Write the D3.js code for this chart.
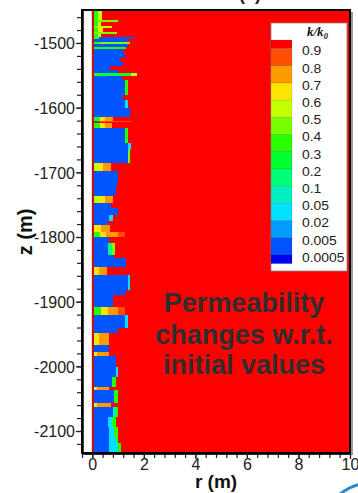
<!DOCTYPE html>
<html>
<head>
<meta charset="utf-8">
<script src="https://cdn.jsdelivr.net/npm/d3@7"></script>
<style>
  body { margin: 0; background: #fff; }
  svg { display: block; font-family: "Liberation Sans", Arial, sans-serif; }
</style>
</head>
<body>
<svg id="chart" width="358" height="493"></svg>
<script>
// contour levels of k/k0 and their fill colours (lowest band first)
var levels = [0.0005, 0.005, 0.02, 0.05, 0.1, 0.2, 0.3, 0.4, 0.5, 0.6, 0.7, 0.8, 0.9];
var levelColors = ["#0000f5", "#0055ff", "#009cff", "#00e0ff", "#00f0c0", "#00ff78", "#00ff30",
  "#28ff00", "#78ff00", "#c4ff00", "#ffe400", "#ff9a00", "#ff4e00", "#ff0000"];

var zTicks = [-2100, -2000, -1900, -1800, -1700, -1600, -1500];
var rTicks = [0, 2, 4, 6, 8, 10];
var noteLines = ["Permeability", "changes w.r.t.", "initial values"];

var zDomain = [-2134, -1449];
var rDomain = [-0.4, 10];
var rWell = 0.08;

// top of each depth band (m); band ends at the next top
var bandTop = [-1449, -1464, -1467, -1473, -1477, -1483, -1486.5, -1490.7, -1494.6, -1498.5,
  -1501.5, -1506.2, -1509.3, -1515.5, -1523.2, -1529.4, -1535.6, -1541.8, -1546.4, -1551,
  -1557.2, -1580.4, -1588.1, -1600.5, -1614.4, -1620.6, -1622.2, -1623.7, -1631.4, -1654.6,
  -1665.5, -1685.6, -1698.5, -1719.1, -1734.6, -1737.2, -1747.5, -1755.2, -1765.5, -1775.8,
  -1781, -1792, -1800.5, -1809.8, -1827.9, -1833, -1845.9, -1858.8, -1882, -1889.7,
  -1907.8, -1920.7, -1941.3, -1949, -1967, -1977.4, -1984.1, -2000.5, -2016, -2031.5,
  -2036.6, -2057.3, -2062.4, -2077.9, -2093.3, -2108.8, -2119.1];

// radial profile of each band: [outer r, k/k0] going out from the well; beyond is unchanged
var bandProfile = [
  [[0.21, 0.35], [0.38, 0.55]],
  [[0.21, 0.35], [1.0, 0.45]],
  [[0.21, 0.35], [0.34, 0.55]],
  [[0.21, 0.4], [0.75, 0.55]],
  [[0.21, 0.35], [0.4, 0.6]],
  [[0.21, 0.4], [0.95, 0.45]],
  [[0.21, 0.35], [0.34, 0.55]],
  [[0.25, 0.3], [1.6, 0.002]],
  [[1.35, 0.002]],
  [[0.3, 0.35], [1.45, 0.4]],
  [[1.39, 0.002]],
  [[0.5, 0.3], [1.3, 0.35]],
  [[1.2, 0.002]],
  [[1.27, 0.002]],
  [[1.08, 0.002]],
  [[1.2, 0.002]],
  [[0.7, 0.002]],
  [[1.0, 0.002]],
  [[0.3, 0.3], [1.5, 0.25], [1.74, 0.55]],
  [[1.16, 0.002]],
  [[1.27, 0.002], [1.39, 0.3]],
  [[1.2, 0.002]],
  [[1.27, 0.002], [1.39, 0.03]],
  [[1.47, 0.002]],
  [[0.3, 0.35], [0.49, 0.65], [0.8, 0.75]],
  [[0.25, 0.002], [1.55, 0.85]],
  [],
  [[0.3, 0.35], [0.49, 0.65], [0.75, 0.75]],
  [[1.27, 0.002], [1.39, 0.3]],
  [[1.39, 0.002], [1.51, 0.03]],
  [[1.39, 0.002], [1.47, 0.45]],
  [[0.27, 0.55], [0.4, 0.65], [0.73, 0.75]],
  [[0.99, 0.002]],
  [[0.9, 0.002]],
  [[0.79, 0.002]],
  [[0.3, 0.55], [0.5, 0.65], [0.8, 0.75]],
  [[0.73, 0.002]],
  [[0.99, 0.002]],
  [[0.66, 0.002], [0.79, 0.03]],
  [[0.6, 0.002]],
  [[0.35, 0.65], [0.7, 0.75]],
  [[0.3, 0.35], [0.55, 0.65], [1.0, 0.75], [1.25, 0.85]],
  [[0.66, 0.002]],
  [[0.6, 0.002], [0.75, 0.15], [0.88, 0.45]],
  [[0.86, 0.002]],
  [[1.31, 0.002]],
  [[0.27, 0.65], [0.56, 0.75]],
  [[1.38, 0.002], [1.47, 0.03]],
  [[1.31, 0.002]],
  [[0.79, 0.002]],
  [[0.34, 0.35], [0.6, 0.65], [0.99, 0.75], [1.25, 0.85]],
  [[1.25, 0.002], [1.38, 0.03]],
  [[0.99, 0.002]],
  [[0.27, 0.65], [0.66, 0.75]],
  [[0.66, 0.002]],
  [[0.2, 0.65], [0.66, 0.75]],
  [[0.92, 0.002]],
  [[0.92, 0.002], [0.99, 0.03]],
  [[0.77, 0.002], [0.9, 0.3]],
  [[0.2, 0.65], [0.66, 0.75]],
  [[0.86, 0.002], [0.99, 0.3]],
  [[0.2, 0.65], [0.73, 0.75]],
  [[0.79, 0.002], [0.9, 0.05], [0.99, 0.3]],
  [[0.6, 0.002], [0.77, 0.03], [0.92, 0.3]],
  [[0.66, 0.002], [0.86, 0.03], [0.99, 0.3]],
  [[0.66, 0.002], [0.92, 0.03], [0.99, 0.35]],
  [[0.66, 0.002], [0.99, 0.03], [1.12, 0.3]]
];

var svg = d3.select("#chart");

var x = d3.scaleLinear().domain(rDomain).range([82, 350]);
var y = d3.scaleLinear().domain(zDomain).range([453, 10]);
var color = d3.scaleThreshold().domain(levels).range(levelColors);

// frame shadow + background
svg.append("rect")
  .attr("x", x(rDomain[0]) + 3).attr("y", y(zDomain[1]) + 2)
  .attr("width", x(rDomain[1]) - x(rDomain[0])).attr("height", y(zDomain[0]) - y(zDomain[1]))
  .attr("fill", "#9a9a9a");
svg.append("rect")
  .attr("x", x(rDomain[0])).attr("y", y(zDomain[1]))
  .attr("width", x(0) - x(rDomain[0])).attr("height", y(zDomain[0]) - y(zDomain[1]))
  .attr("fill", "#fff");
svg.append("rect")
  .attr("x", x(0)).attr("y", y(zDomain[1]))
  .attr("width", x(rDomain[1]) - x(0)).attr("height", y(zDomain[0]) - y(zDomain[1]))
  .attr("fill", color(1));

// cells
var cells = [];
bandTop.forEach(function(top, i) {
  var bottom = i < bandTop.length - 1 ? bandTop[i + 1] : zDomain[0];
  var r0 = rWell;
  bandProfile[i].forEach(function(p) {
    cells.push({ z0: top, z1: bottom, r0: r0, r1: p[0], k: p[1] });
    r0 = p[0];
  });
});

svg.append("g").attr("shape-rendering", "crispEdges")
  .selectAll("rect").data(cells).enter().append("rect")
  .attr("x", function(d) { return x(d.r0); })
  .attr("y", function(d) { return y(d.z0); })
  .attr("width", function(d) { return x(d.r1) - x(d.r0); })
  .attr("height", function(d) { return y(d.z1) - y(d.z0); })
  .attr("fill", function(d) { return color(d.k); });

// well wall
svg.append("rect")
  .attr("x", x(0) - 0.5).attr("y", y(zDomain[1]))
  .attr("width", 1.8).attr("height", y(zDomain[0]) - y(zDomain[1]))
  .attr("fill", "#b01818");

// note
svg.append("g").selectAll("text").data(noteLines).enter().append("text")
  .attr("x", 244)
  .attr("y", function(d, i) { return [312, 344, 374][i]; })
  .attr("text-anchor", "middle")
  .attr("font-size", 27).attr("font-weight", "bold")
  .attr("fill", "#2e2e2e")
  .text(function(d) { return d; });

// legend
var legend = svg.append("g");
legend.append("rect")
  .attr("x", 271).attr("y", 23).attr("width", 76).attr("height", 248)
  .attr("fill", "#fff").attr("stroke", "#8a8a8a").attr("stroke-width", 0.8);

var title = legend.append("text")
  .attr("x", 307).attr("y", 36)
  .attr("font-family", "'Liberation Serif', 'Times New Roman', serif")
  .attr("font-style", "italic").attr("font-weight", "bold").attr("font-size", 13)
  .attr("fill", "#111");
title.append("tspan").text("k/k");
title.append("tspan").attr("font-size", 8.5).attr("dy", 2.5).text("0");

var step = 17.2;
var firstEdge = 48.6;
var swatches = d3.range(levelColors.length).map(function(i) {
  var top = i === 0 ? firstEdge - step / 2 : firstEdge + (i - 1) * step;
  var h = (i === 0 || i === levelColors.length - 1) ? step / 2 : step;
  return { top: top, h: h, fill: levelColors[levelColors.length - 1 - i] };
});
legend.selectAll(".sw").data(swatches).enter().append("rect")
  .attr("class", "sw")
  .attr("x", 271).attr("y", function(d) { return d.top; })
  .attr("width", 21).attr("height", function(d) { return d.h; })
  .attr("fill", function(d) { return d.fill; })
  .attr("stroke", "rgba(0,0,0,0.18)").attr("stroke-width", 0.6);

var labelLevels = levels.slice().reverse();
legend.selectAll(".lab").data(labelLevels).enter().append("text")
  .attr("class", "lab")
  .attr("transform", function(d, i) {
    return "translate(302," + (firstEdge + i * step + 6.8) + ") scale(1.16,1)";
  })
  .attr("font-size", 12).attr("fill", "#222")
  .text(function(d) { return String(d); });

// frame
svg.append("rect")
  .attr("x", x(rDomain[0])).attr("y", y(zDomain[1]))
  .attr("width", x(rDomain[1]) - x(rDomain[0])).attr("height", y(zDomain[0]) - y(zDomain[1]))
  .attr("fill", "none").attr("stroke", "#000").attr("stroke-width", 2);

// axes
var plain = function(d) { return String(d); };
var yMinor = d3.axisLeft(y).tickValues(d3.range(-2120, -1450, 20)).tickSize(5).tickSizeOuter(0).tickFormat("");
var yMajor = d3.axisLeft(y).tickValues(zTicks).tickSize(6).tickSizeOuter(0).tickPadding(1).tickFormat(plain);
var xMinor = d3.axisBottom(x).tickValues(d3.range(-0.4, 10.01, 0.4)).tickSize(5).tickSizeOuter(0).tickFormat("");
var xMajor = d3.axisBottom(x).tickValues(rTicks).tickSize(6).tickSizeOuter(0).tickFormat(plain);

function styleAxis(g) {
  g.select(".domain").attr("stroke", "#000").attr("stroke-width", 2);
  g.selectAll(".tick line").attr("stroke", "#222").attr("stroke-width", 1.2);
  g.selectAll("text").attr("font-size", 16).attr("fill", "#222")
    .attr("font-family", "'Liberation Sans', Arial, sans-serif");
}

svg.append("g").attr("transform", "translate(" + x(rDomain[0]) + ",0)").call(yMinor).call(styleAxis);
svg.append("g").attr("transform", "translate(" + x(rDomain[0]) + ",0)").call(yMajor).call(styleAxis)
  .selectAll("text").attr("dy", "0.36em");
svg.append("g").attr("transform", "translate(0," + y(zDomain[0]) + ")").call(xMinor).call(styleAxis);
svg.append("g").attr("transform", "translate(0," + y(zDomain[0]) + ")").call(xMajor).call(styleAxis)
  .selectAll("text").attr("y", 16.5).attr("dy", 0);

// axis titles
svg.append("text")
  .attr("x", 216).attr("y", 488)
  .attr("text-anchor", "middle").attr("font-size", 19).attr("font-weight", "bold").attr("fill", "#111")
  .text("r (m)");
svg.append("text")
  .attr("transform", "translate(32,232) rotate(-90)")
  .attr("text-anchor", "middle").attr("font-size", 20).attr("font-weight", "bold").attr("fill", "#111")
  .text("z (m)");

// panel label, cut at the top edge
svg.append("text")
  .attr("x", 250).attr("y", -0.5)
  .attr("text-anchor", "middle").attr("font-size", 18).attr("font-weight", "bold").attr("fill", "#222")
  .text("(c)");

// slide decoration, bottom right
svg.append("path")
  .attr("d", "M340,494 Q349,487 359,484.5")
  .attr("fill", "none").attr("stroke", "#2a8ac6").attr("stroke-width", 3);
</script>
</body>
</html>
